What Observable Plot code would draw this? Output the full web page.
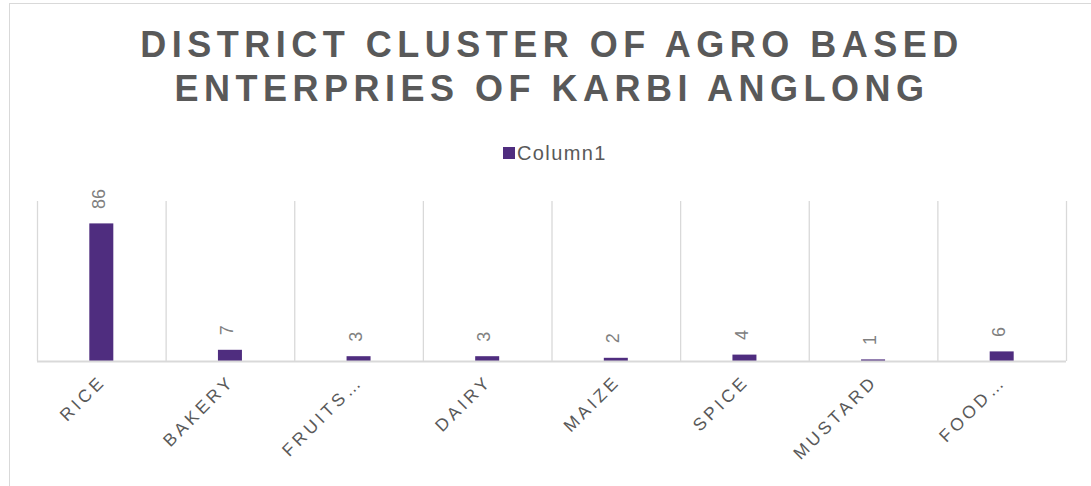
<!DOCTYPE html>
<html>
<head>
<meta charset="utf-8">
<script src="https://cdn.jsdelivr.net/npm/d3@7"></script>
<script src="https://cdn.jsdelivr.net/npm/@observablehq/plot@0.6"></script>
<style>
  html, body { margin: 0; padding: 0; background: #fff; }
  #wrap { position: relative; width: 1091px; height: 486px; overflow: hidden; background: #fff; font-family: "Liberation Sans", Arial, sans-serif; }
  #border { position: absolute; left: 9px; top: 3px; width: 1200px; height: 700px; border: 1px solid #d9d9d9; box-sizing: border-box; }
  #title { position: absolute; left: 0; top: 23px; width: 1104px; text-align: center; font-weight: bold; font-size: 36px; line-height: 43.5px; letter-spacing: 5.5px; color: #595959; }
  #legend-swatch { position: absolute; left: 503px; top: 147px; width: 12px; height: 12px; }
  #legend-text { position: absolute; left: 517px; top: 143px; font-size: 20px; line-height: 20px; letter-spacing: 1.4px; color: #595959; white-space: nowrap; }
  #chart { position: absolute; left: 0; top: 180px; }
</style>
</head>
<body>
<div id="wrap">
  <div id="border"></div>
  <div id="title"></div>
  <div id="legend-swatch"></div>
  <div id="legend-text"></div>
  <div id="chart"></div>
</div>
<script>
const titleLines = ["DISTRICT CLUSTER OF AGRO BASED", "ENTERPRIES OF KARBI ANGLONG"];
const seriesName = "Column1";
const categories = ["RICE", "BAKERY", "FRUITS…", "DAIRY", "MAIZE", "SPICE", "MUSTARD", "FOOD…"];
const values = [86, 7, 3, 3, 2, 4, 1, 6];
const yTicks = [0, 100];
const barColor = "#4f2d7f";

const data = categories.map((c, i) => ({category: c, value: values[i]}));

document.getElementById("title").innerHTML = titleLines.join("<br>");
document.getElementById("legend-swatch").style.background = barColor;
document.getElementById("legend-text").textContent = seriesName;

const W = 1091, mL = 37, mR = 25;
const step = (W - mL - mR) / categories.length;
const barWidth = 24;
const inset = (step - barWidth) / 2;

const chart = Plot.plot({
  width: W,
  height: 306,
  marginTop: 21,
  marginBottom: 125,
  marginLeft: mL,
  marginRight: mR,
  style: {fontFamily: "'Liberation Sans', Arial, sans-serif", background: "transparent"},
  x: {domain: categories, padding: 0, round: false, axis: null},
  y: {domain: [yTicks[0], yTicks[yTicks.length - 1]], axis: null},
  marks: [
    Plot.ruleX(categories, {x: d => d, y1: yTicks[0], y2: yTicks[yTicks.length - 1], stroke: "#d9d9d9", strokeWidth: 1.3, dx: -step / 2}),
    Plot.ruleX(categories.slice(-1), {x: d => d, y1: yTicks[0], y2: yTicks[yTicks.length - 1], stroke: "#d9d9d9", strokeWidth: 1.3, dx: step / 2}),
    Plot.barY(data, {x: "category", y: "value", fill: barColor, insetLeft: inset, insetRight: inset}),
    Plot.ruleY([0], {stroke: "#d9d9d9", strokeWidth: 2}),
    Plot.text(data, {x: "category", y: "value", text: d => String(d.value), rotate: -90, textAnchor: "start", dy: -15, dx: -3, fill: "#808080", fontSize: 18}),
    Plot.text(categories, {x: d => d, frameAnchor: "bottom", text: d => d, rotate: -45, textAnchor: "end", dy: 21, dx: 5, fill: "#595959", fontSize: 17.5})
  ]
});

d3.select(chart).selectAll("g[font-size='17.5'] text").attr("letter-spacing", "3.6px");
document.getElementById("chart").appendChild(chart);
</script>
</body>
</html>
